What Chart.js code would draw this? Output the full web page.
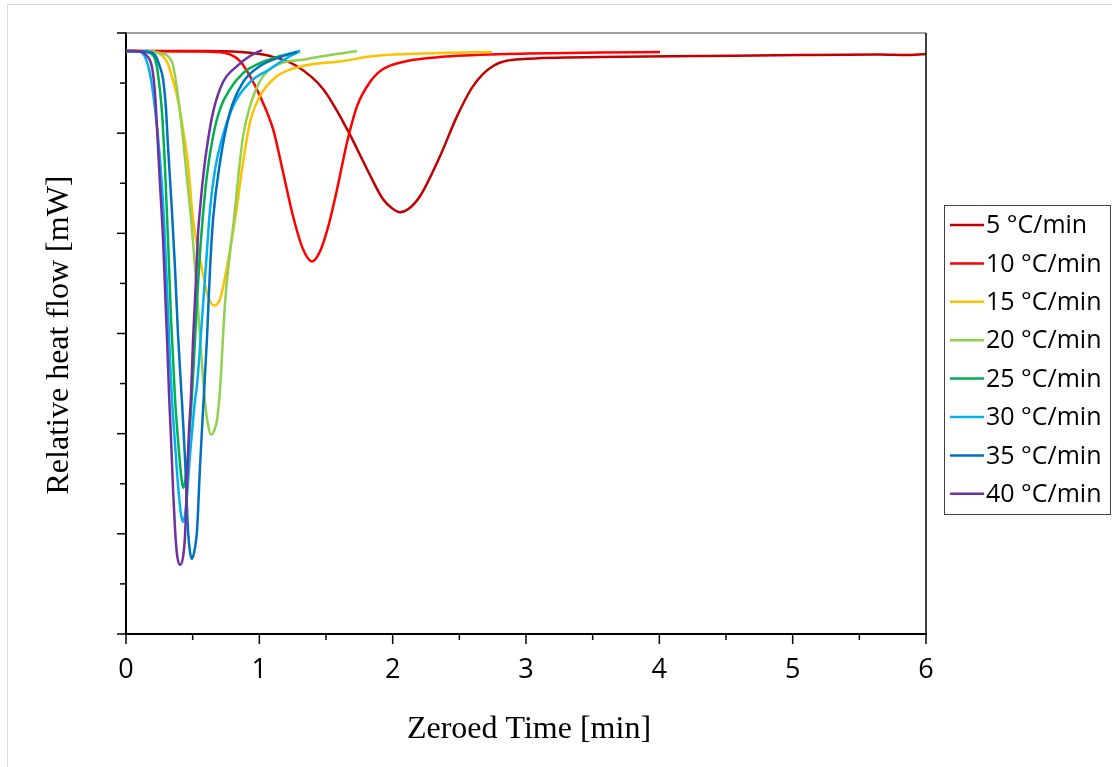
<!DOCTYPE html>
<html>
<head>
<meta charset="utf-8">
<title>Heat flow vs zeroed time</title>
<script src="https://cdn.jsdelivr.net/npm/chart.js@4"></script>
<style>
  body { margin: 0; background: #fff; }
  #wrap { width: 1112px; height: 767px; }
</style>
</head>
<body>
<div id="wrap"><canvas id="myChart" width="1112" height="767"></canvas></div>
<script>
// heating rates (legend labels + colours)
const rateLabels = ['5 °C/min', '10 °C/min', '15 °C/min', '20 °C/min', '25 °C/min', '30 °C/min', '35 °C/min', '40 °C/min'];
const rateColors = ['#C00000', '#FF0000', '#FFC000', '#92D050', '#00B050', '#00B0F0', '#0070C0', '#7030A0'];

// axis ticks
const xTicks = [0, 1, 2, 3, 4, 5, 6];

// curves: zeroed time [min] and relative heat flow
const time5 = [0, 0.555, 0.855, 1.08, 1.28, 1.478, 1.658, 1.808, 1.928, 1.995, 2.055, 2.115, 2.205, 2.355, 2.483, 2.603, 2.753, 2.978, 3.555, 4.305, 5.055, 5.655, 5.843, 6.0];
const flow5 = [5.82, 5.82, 5.81, 5.77, 5.67, 5.44, 5.04, 4.64, 4.34, 4.25, 4.21, 4.24, 4.37, 4.77, 5.17, 5.47, 5.67, 5.74, 5.76, 5.77, 5.78, 5.785, 5.78, 5.79];

const time10 = [0, 0.555, 0.743, 0.855, 0.93, 1.005, 1.103, 1.178, 1.253, 1.328, 1.395, 1.455, 1.515, 1.583, 1.658, 1.733, 1.83, 1.928, 2.108, 2.355, 2.858, 3.555, 4.005];
const flow10 = [5.82, 5.815, 5.80, 5.72, 5.57, 5.37, 5.04, 4.61, 4.17, 3.84, 3.72, 3.82, 4.06, 4.44, 4.91, 5.27, 5.51, 5.64, 5.72, 5.76, 5.79, 5.805, 5.81];

const time15 = [0, 0.18, 0.255, 0.308, 0.345, 0.383, 0.428, 0.465, 0.503, 0.54, 0.57, 0.615, 0.66, 0.705, 0.758, 0.818, 0.878, 0.93, 1.005, 1.133, 1.328, 1.628, 1.853, 2.355, 2.745];
const flow15 = [5.82, 5.815, 5.79, 5.71, 5.56, 5.37, 5.04, 4.69, 4.14, 3.84, 3.64, 3.37, 3.28, 3.34, 3.67, 4.14, 4.71, 5.11, 5.37, 5.57, 5.67, 5.72, 5.77, 5.80, 5.81];

const time20 = [0, 0.18, 0.255, 0.345, 0.405, 0.458, 0.495, 0.525, 0.555, 0.593, 0.615, 0.638, 0.66, 0.683, 0.705, 0.743, 0.78, 0.81, 0.84, 0.878, 0.93, 1.005, 1.103, 1.358, 1.733];
const flow20 = [5.82, 5.815, 5.80, 5.71, 5.21, 4.54, 4.04, 3.54, 2.97, 2.31, 2.09, 1.99, 2.03, 2.14, 2.44, 3.31, 3.81, 4.14, 4.54, 4.97, 5.27, 5.52, 5.66, 5.74, 5.82];

const time25 = [0, 0.105, 0.18, 0.218, 0.24, 0.27, 0.293, 0.315, 0.338, 0.368, 0.39, 0.413, 0.428, 0.443, 0.465, 0.488, 0.51, 0.533, 0.555, 0.578, 0.608, 0.653, 0.705, 0.78, 0.878, 1.005, 1.155, 1.305];
const flow25 = [5.82, 5.817, 5.80, 5.74, 5.59, 5.21, 4.64, 3.94, 3.14, 2.34, 1.94, 1.59, 1.46, 1.52, 1.79, 2.24, 2.74, 3.34, 3.81, 4.19, 4.59, 4.97, 5.24, 5.44, 5.60, 5.70, 5.77, 5.82];

const time30 = [0, 0.09, 0.143, 0.18, 0.218, 0.255, 0.285, 0.308, 0.33, 0.345, 0.368, 0.39, 0.413, 0.428, 0.443, 0.458, 0.48, 0.495, 0.518, 0.533, 0.57, 0.608, 0.63, 0.668, 0.705, 0.803, 0.93, 1.08, 1.193, 1.305];
const flow30 = [5.82, 5.815, 5.76, 5.59, 5.24, 4.74, 4.14, 3.44, 2.74, 2.34, 1.89, 1.49, 1.19, 1.12, 1.19, 1.39, 1.79, 2.01, 2.34, 2.49, 3.14, 3.84, 4.24, 4.64, 4.87, 5.27, 5.51, 5.64, 5.74, 5.82];

const time35 = [0, 0.143, 0.218, 0.255, 0.278, 0.3, 0.315, 0.345, 0.368, 0.39, 0.42, 0.443, 0.465, 0.48, 0.495, 0.51, 0.533, 0.555, 0.578, 0.608, 0.63, 0.653, 0.705, 0.78, 0.878, 1.005, 1.155, 1.283];
const flow35 = [5.82, 5.815, 5.78, 5.66, 5.54, 5.24, 4.87, 4.21, 3.64, 2.99, 2.31, 1.74, 1.04, 0.82, 0.75, 0.81, 1.04, 1.67, 2.24, 2.97, 3.64, 4.14, 4.71, 5.21, 5.51, 5.67, 5.76, 5.81];

const time40 = [0, 0.068, 0.12, 0.165, 0.195, 0.218, 0.233, 0.255, 0.278, 0.293, 0.308, 0.323, 0.338, 0.353, 0.368, 0.383, 0.405, 0.428, 0.443, 0.458, 0.473, 0.488, 0.503, 0.525, 0.54, 0.555, 0.585, 0.608, 0.653, 0.728, 0.833, 0.93, 1.02];
const flow40 = [5.82, 5.82, 5.81, 5.76, 5.66, 5.39, 5.04, 4.49, 3.94, 3.44, 2.94, 2.39, 1.94, 1.44, 1.04, 0.79, 0.69, 0.77, 0.99, 1.54, 2.04, 2.39, 2.94, 3.54, 3.99, 4.24, 4.64, 4.87, 5.21, 5.51, 5.67, 5.77, 5.83];

const allTimes = [time5, time10, time15, time20, time25, time30, time35, time40];
const allFlows = [flow5, flow10, flow15, flow20, flow25, flow30, flow35, flow40];

// build {x, y} points for each curve
function makePoints(times, flows) {
  let pts = [];
  for (let i = 0; i < times.length; i++) {
    pts.push({ x: times[i], y: flows[i] });
  }
  return pts;
}

let datasets = [];
for (let i = 0; i < rateLabels.length; i++) {
  datasets.push({
    label: rateLabels[i],
    data: makePoints(allTimes[i], allFlows[i]),
    borderColor: rateColors[i],
    backgroundColor: rateColors[i],
    borderWidth: 2.5,
    pointRadius: 0,
    fill: false,
    cubicInterpolationMode: 'monotone',
    order: rateLabels.length - i // later rates drawn on top
  });
}

// frame, minor/major tick marks, axis titles and the boxed legend
const decorations = {
  id: 'decorations',
  beforeDraw(chart) {
    const c = chart.ctx;
    c.save();
    c.strokeStyle = '#d9d9d9';
    c.lineWidth = 1;
    c.strokeRect(7.5, 4.5, 1200, 900);
    c.restore();
  },
  afterDraw(chart) {
    const c = chart.ctx;
    const area = chart.chartArea;
    const xs = chart.scales.x;
    const ys = chart.scales.y;
    c.save();

    // top and right edges of the plot box
    c.strokeStyle = '#7f7f7f';
    c.lineWidth = 1.5;
    c.beginPath();
    c.moveTo(area.left, area.top);
    c.lineTo(area.right, area.top);
    c.stroke();
    c.strokeStyle = '#000';
    c.beginPath();
    c.moveTo(area.right, area.top);
    c.lineTo(area.right, area.bottom);
    c.stroke();

    // tick marks: long on whole units, short on halves
    c.strokeStyle = '#000';
    c.lineWidth = 1.5;
    for (let v = 0; v <= 6; v += 0.5) {
      const len = (v % 1 === 0) ? 10 : 6;
      const px = xs.getPixelForValue(v);
      c.beginPath();
      c.moveTo(px, area.bottom);
      c.lineTo(px, area.bottom + len);
      c.stroke();
      const py = ys.getPixelForValue(v);
      const ylen = (v % 1 === 0) ? 9 : 6;
      c.beginPath();
      c.moveTo(area.left, py);
      c.lineTo(area.left - ylen, py);
      c.stroke();
    }

    // axis titles
    c.fillStyle = '#000';
    c.font = '32px "Liberation Serif", "Times New Roman", serif';
    c.textAlign = 'center';
    c.textBaseline = 'alphabetic';
    c.fillText('Zeroed Time [min]', 529, 738);
    c.translate(68, 335);
    c.rotate(-Math.PI / 2);
    c.fillText('Relative heat flow [mW]', 0, 0);
    c.setTransform(1, 0, 0, 1, 0, 0);

    // legend
    c.strokeStyle = '#404040';
    c.lineWidth = 1;
    c.strokeRect(944.5, 205.5, 166, 309);
    c.font = '25px "Open Sans", "Noto Sans", sans-serif';
    c.textAlign = 'left';
    c.textBaseline = 'middle';
    for (let i = 0; i < rateLabels.length; i++) {
      const y = 225 + i * 38.4;
      c.strokeStyle = rateColors[i];
      c.lineWidth = 2.5;
      c.beginPath();
      c.moveTo(950, y);
      c.lineTo(984, y);
      c.stroke();
      c.fillStyle = '#000';
      c.fillText(rateLabels[i], 986, y + 1);
    }
    c.restore();
  }
};

new Chart(document.getElementById('myChart'), {
  type: 'line',
  data: { datasets: datasets },
  options: {
    responsive: false,
    animation: false,
    layout: { padding: { top: 33, right: 186, left: 0, bottom: 0 } },
    plugins: {
      legend: { display: false },
      tooltip: { enabled: false }
    },
    scales: {
      x: {
        type: 'linear',
        min: 0,
        max: 6,
        afterFit: (scale) => { scale.height = 133; },
        afterBuildTicks: (scale) => { scale.ticks = xTicks.map(v => ({ value: v })); },
        grid: { display: false },
        border: { display: true, color: '#000', width: 2 },
        ticks: {
          autoSkip: false,
          maxRotation: 0,
          padding: 12,
          color: '#000',
          font: { family: '"Open Sans", "Noto Sans", sans-serif', size: 27 }
        }
      },
      y: {
        type: 'linear',
        min: 0,
        max: 6,
        afterFit: (scale) => { scale.width = 126; },
        grid: { display: false },
        border: { display: true, color: '#000', width: 2 },
        ticks: { display: false }
      }
    }
  },
  plugins: [decorations]
});
</script>
</body>
</html>
